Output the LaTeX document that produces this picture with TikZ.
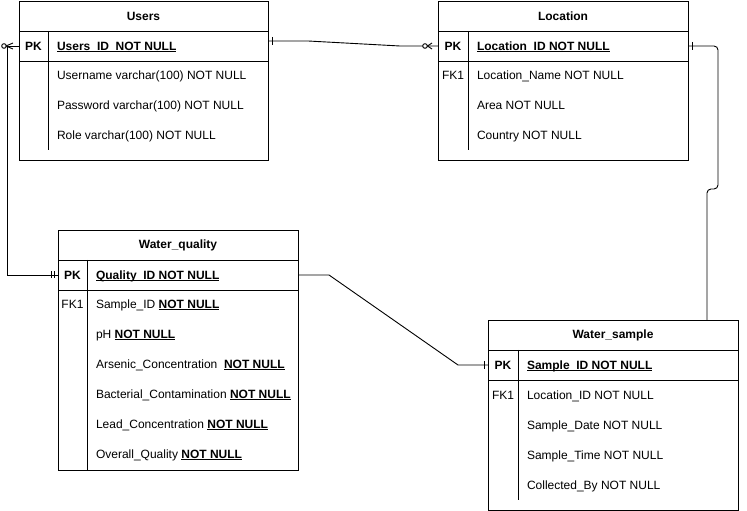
\documentclass[tikz,border=0pt]{standalone}
\usepackage{fontspec}
\setmainfont{Liberation Sans}
\usetikzlibrary{positioning}

\newcommand{\keyline}[1]{\setbox0\hbox{#1}\rlap{\rule[-1.6pt]{\wd0}{0.9pt}}\box0}

\begin{document}
\begin{tikzpicture}[x=1pt,y=1pt,line width=0.9pt,node distance=14.4pt,
		font=\fontsize{12}{14}\selectfont,
		tblhead/.style={draw,rectangle,minimum height=30pt,inner sep=0pt,outer sep=0pt,font=\fontsize{12}{14}\selectfont\bfseries},
		tblrow/.style={draw,rectangle,minimum height=30pt,inner sep=0pt,outer sep=0pt},
		field/.style={anchor=west,inner sep=0pt,outer sep=0pt,text height=12pt,text depth=3.6pt},
		keytext/.style={inner sep=0pt,outer sep=0pt,text height=12pt,text depth=3.6pt,font=\fontsize{12}{14}\selectfont\bfseries},
		fktext/.style={inner sep=0pt,outer sep=0pt,text height=12pt,text depth=3.6pt}]
		\useasboundingbox (0,0) rectangle (747,511);
		% Users
		\node (users) [tblhead,minimum width=249pt] at (143.5,495) {Users};
		\node (userspk) [tblrow,minimum width=249pt,below=0pt of users] {};
		\node (usersbox) [tblrow,minimum width=249pt,minimum height=99pt,below=0pt of userspk] {};
		\draw ([xshift=29pt]userspk.north west) -- ++(0,-119);
		\node (userskey) [keytext] at (33.5,465) {PK};
		\node (usersid) [field] at (57,465) {\bfseries\keyline{Users\_ID\ \ NOT NULL}};
		\node (uname) [field] at (57,436) {Username varchar(100) NOT NULL};
		\node (upass) [field,below=of uname.south west,anchor=north west] {Password varchar(100) NOT NULL};
		\node (urole) [field,below=of upass.south west,anchor=north west] {Role varchar(100) NOT NULL};
		% Location
		\node (loc) [tblhead,minimum width=250pt] at (563,495) {Location};
		\node (locpk) [tblrow,minimum width=250pt,below=0pt of loc] {};
		\node (locbox) [tblrow,minimum width=250pt,minimum height=99pt,below=0pt of locpk] {};
		\draw ([xshift=30pt]locpk.north west) -- ++(0,-119);
		\node (lockey) [keytext] at (453,465) {PK};
		\node (locid) [field] at (477,465) {\bfseries\keyline{Location\_ID NOT NULL}};
		\node (locname) [field] at (477,436) {Location\_Name NOT NULL};
		\node (locarea) [field,below=of locname.south west,anchor=north west] {Area NOT NULL};
		\node (loccountry) [field,below=of locarea.south west,anchor=north west] {Country NOT NULL};
		\node (locfk) [fktext] at (lockey |- locname) {FK1};
		% Water_quality
		\node (wq) [tblhead,minimum width=240pt] at (178,266) {Water\_quality};
		\node (wqpk) [tblrow,minimum width=240pt,below=0pt of wq] {};
		\node (wqbox) [tblrow,minimum width=240pt,minimum height=180pt,below=0pt of wqpk] {};
		\draw ([xshift=29pt]wqpk.north west) -- ++(0,-210);
		\node (wqkey) [keytext] at (72.5,236) {PK};
		\node (wqid) [field] at (96,236) {\bfseries\keyline{Quality\_ID NOT NULL}};
		\node (wqsample) [field] at (96,207) {Sample\_ID \keyline{\bfseries NOT NULL}};
		\node (wqph) [field,below=of wqsample.south west,anchor=north west] {pH \keyline{\bfseries NOT NULL}};
		\node (wqars) [field,below=of wqph.south west,anchor=north west] {Arsenic\_Concentration\ \ \keyline{\bfseries NOT NULL}};
		\node (wqbact) [field,below=of wqars.south west,anchor=north west] {Bacterial\_Contamination \keyline{\bfseries NOT NULL}};
		\node (wqlead) [field,below=of wqbact.south west,anchor=north west] {Lead\_Concentration \keyline{\bfseries NOT NULL}};
		\node (wqall) [field,below=of wqlead.south west,anchor=north west] {Overall\_Quality \keyline{\bfseries NOT NULL}};
		\node (wqfk) [fktext] at (wqkey |- wqsample) {FK1};
		% Water_sample
		\node (ws) [tblhead,minimum width=250pt] at (613,176) {Water\_sample};
		\node (wspk) [tblrow,minimum width=250pt,below=0pt of ws] {};
		\node (wsbox) [tblrow,minimum width=250pt,minimum height=130pt,below=0pt of wspk] {};
		\draw ([xshift=30pt]wspk.north west) -- ++(0,-150);
		\node (wskey) [keytext] at (503,146) {PK};
		\node (wsid) [field] at (527,146) {\bfseries\keyline{Sample\_ID NOT NULL}};
		\node (wsloc) [field] at (527,116) {Location\_ID NOT NULL};
		\node (wsdate) [field,below=of wsloc.south west,anchor=north west] {Sample\_Date NOT NULL};
		\node (wstime) [field,below=of wsdate.south west,anchor=north west] {Sample\_Time NOT NULL};
		\node (wsby) [field,below=of wstime.south west,anchor=north west] {Collected\_By NOT NULL};
		\node (wsfk) [fktext] at (wskey |- wsloc) {FK1};
		% relations
		\draw (userspk.west) -- ++(-11.5,0) |- (wqpk.west);
		\draw ([yshift=5pt]userspk.east) -- ++(40,0) -- ([xshift=-38pt]locpk.west) -- (locpk.west);
		\draw[rounded corners=4pt] (locpk.east) -- (718,465) -- (718,322) -- (707,322) -- ([xshift=94pt]ws.north);
		\draw (wqpk.east) -- ++(31,0) -- ([xshift=-30pt]wspk.west) -- (wspk.west);
		% end marks
		\draw[fill=white] ([xshift=-15pt]userspk.west) circle (2.3);
		\draw ([shift={(-6,3)}]userspk.west) -- ([xshift=-13pt]userspk.west) -- ([shift={(-6,-3)}]userspk.west);
		\draw[fill=white] ([xshift=-13pt]locpk.west) circle (2.3);
		\draw ([shift={(-6,3)}]locpk.west) -- ([xshift=-10.5pt]locpk.west) -- ([shift={(-6,-3)}]locpk.west);
		\draw ([shift={(-7,3.5)}]wqpk.west) -- ([shift={(-7,-3.5)}]wqpk.west);
		\draw ([shift={(-4,3.5)}]wqpk.west) -- ([shift={(-4,-3.5)}]wqpk.west);
		\draw ([shift={(4,9)}]userspk.east) -- ([shift={(4,1)}]userspk.east);
		\draw ([shift={(4,4)}]locpk.east) -- ([shift={(4,-4)}]locpk.east);
		\draw ([shift={(-4,4)}]wspk.west) -- ([shift={(-4,-4)}]wspk.west);
	\end{tikzpicture}
\end{document}
